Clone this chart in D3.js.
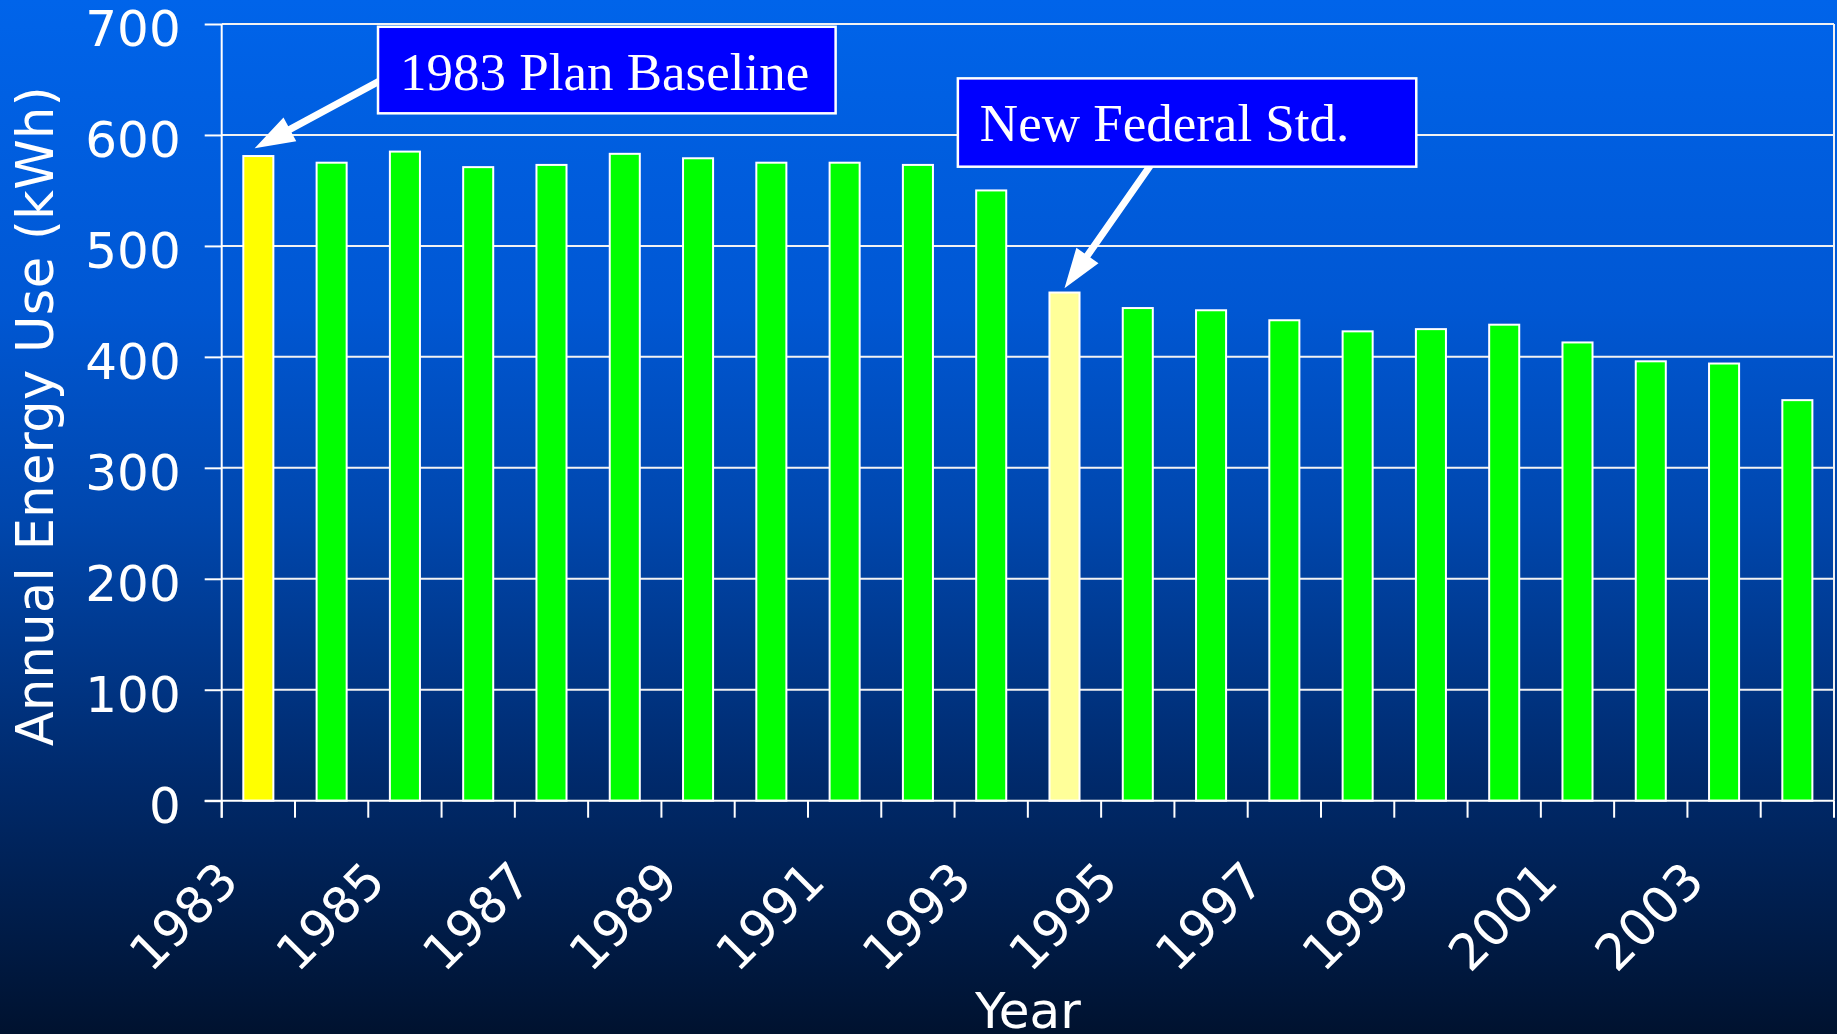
<!DOCTYPE html>
<html>
<head>
<meta charset="utf-8">
<script src="https://cdn.jsdelivr.net/npm/d3@7"></script>
<style>
  html, body { margin: 0; padding: 0; background: #001433; overflow: hidden; }
  svg { display: block; }
</style>
</head>
<body>
<svg id="chart"></svg>
<script>
//------------------------------------------------------------
// Data
const years = [1983, 1984, 1985, 1986, 1987, 1988, 1989, 1990, 1991, 1992, 1993,
               1994, 1995, 1996, 1997, 1998, 1999, 2000, 2001, 2002, 2003, 2004];
const energyUse = [581, 575, 585, 571, 573, 583, 579, 575, 575, 573, 550,
                   458, 444, 442, 433, 423, 425, 429, 413, 396, 394, 361];
const yTicks = [0, 100, 200, 300, 400, 500, 600, 700];
const xTickLabels = ["1983", "1985", "1987", "1989", "1991", "1993",
                     "1995", "1997", "1999", "2001", "2003"];
const planYear = 1983;
const stdYear = 1994;

// callouts, placed in data units (year position, kWh)
const callouts = [
  { text: "1983 Plan Baseline", x0: 1984.633, x1: 1990.877, v0: 697.5, v1: 619.5,
    from: [1984.72, 651], to: [1982.95, 588] },
  { text: "New Federal Std.", x0: 1992.545, x1: 1998.8, v0: 651.0, v1: 571.4,
    from: [1995.21, 576], to: [1994.0, 461.8] }
];

//------------------------------------------------------------
// Setup
const W = 1837, H = 1034;
const margin = { top: 24, right: 3, bottom: 233.3, left: 221.7 };

const svg = d3.select("#chart").attr("width", W).attr("height", H);

const defs = svg.append("defs");
const grad = defs.append("linearGradient")
  .attr("id", "bg").attr("x1", 0).attr("y1", 0).attr("x2", 0).attr("y2", 1);
[[0, "#0064ea"], [0.3, "#0057d3"], [0.5, "#0047ae"], [0.75, "#002a6c"], [1, "#00122f"]]
  .forEach(([o, c]) => grad.append("stop").attr("offset", o).attr("stop-color", c));

svg.append("rect").attr("width", W).attr("height", H).attr("fill", "url(#bg)");

const x = d3.scaleBand()
  .domain(years)
  .range([margin.left, W - margin.right])
  .paddingInner(0.59)
  .paddingOuter(0.295);

const y = d3.scaleLinear()
  .domain([0, 700])
  .range([H - margin.bottom, margin.top]);

// continuous year position -> band centre (for callouts)
const xp = d3.scaleLinear()
  .domain([years[0], years[years.length - 1]])
  .range([x(years[0]) + x.bandwidth() / 2, x(years[years.length - 1]) + x.bandwidth() / 2]);

const axisFont = "'DejaVu Sans', Verdana, sans-serif";
const x0 = margin.left, x1 = W - margin.right;

//------------------------------------------------------------
// Gridlines
svg.append("g")
  .selectAll("line")
  .data(yTicks.filter(d => d > 0))
  .join("line")
  .attr("x1", x0).attr("x2", x1)
  .attr("y1", d => y(d)).attr("y2", d => y(d))
  .attr("stroke", "#f2f2f2")
  .attr("stroke-width", 2);

// right frame edge
svg.append("line")
  .attr("x1", x1).attr("x2", x1)
  .attr("y1", y(700)).attr("y2", y(0))
  .attr("stroke", "#f2f2f2").attr("stroke-width", 2);

//------------------------------------------------------------
// Bars
function barFill(yr) {
  if (yr === planYear) return "#ffff00";
  if (yr === stdYear) return "#ffff99";
  return "#00ff00";
}

svg.append("g")
  .selectAll("rect")
  .data(years.map((yr, i) => ({ yr, v: energyUse[i] })))
  .join("rect")
  .attr("x", d => x(d.yr))
  .attr("y", d => y(d.v))
  .attr("width", x.bandwidth())
  .attr("height", d => y(0) - y(d.v))
  .attr("fill", d => barFill(d.yr))
  .attr("stroke", "#ffffff")
  .attr("stroke-width", 2);

//------------------------------------------------------------
// Y axis
const yAxis = svg.append("g")
  .attr("transform", `translate(${x0},0)`)
  .call(d3.axisLeft(y).tickValues(yTicks).tickSizeInner(17).tickSizeOuter(0).tickPadding(24));

yAxis.select(".domain").attr("stroke", "#fff").attr("stroke-width", 2)
  .attr("d", `M0,${y(700)}V${y(0) + 17}`);
yAxis.selectAll(".tick line").attr("stroke", "#fff").attr("stroke-width", 2);
yAxis.selectAll(".tick text")
  .attr("fill", "#fff")
  .attr("dy", "0.43em")
  .style("font-family", axisFont)
  .style("font-size", "50px");

// X axis line + ticks at category boundaries
const gap = (x.step() - x.bandwidth()) / 2;
const boundaries = years.map(yr => x(yr) - gap).concat([x1]);

svg.append("line")
  .attr("x1", x0 - 17).attr("x2", x1)
  .attr("y1", y(0)).attr("y2", y(0))
  .attr("stroke", "#fff").attr("stroke-width", 2);

svg.append("g")
  .selectAll("line")
  .data(boundaries)
  .join("line")
  .attr("x1", d => d).attr("x2", d => d)
  .attr("y1", y(0)).attr("y2", y(0) + 17)
  .attr("stroke", "#fff").attr("stroke-width", 2);

svg.append("g")
  .selectAll("text")
  .data(xTickLabels)
  .join("text")
  .attr("transform", d => `translate(${x(+d) + x.bandwidth() / 2 - 17.5},${y(0) + 83}) rotate(-45)`)
  .attr("text-anchor", "end")
  .attr("fill", "#fff")
  .style("font-family", axisFont)
  .style("font-size", "50px")
  .text(d => d);

// Axis titles
svg.append("text")
  .attr("x", (x0 + x1) / 2)
  .attr("y", 1028)
  .attr("text-anchor", "middle")
  .attr("fill", "#fff")
  .style("font-family", axisFont)
  .style("font-size", "50px")
  .text("Year");

svg.append("text")
  .attr("transform", `translate(53.3,${(y(0) + y(700)) / 2 + 4}) rotate(-90)`)
  .attr("text-anchor", "middle")
  .attr("textLength", 660)
  .attr("lengthAdjust", "spacing")
  .attr("fill", "#fff")
  .style("font-family", axisFont)
  .style("font-size", "51px")
  .text("Annual Energy Use (kWh)");

//------------------------------------------------------------
// Callouts
function arrowPath(sx, sy, tx, ty) {
  const dx = tx - sx, dy = ty - sy;
  const len = Math.hypot(dx, dy);
  const ux = dx / len, uy = dy / len;
  const nx = -uy, ny = ux;
  const shaft = 3.5, headW = 13.5, headL = 40;
  const bx = tx - ux * headL, by = ty - uy * headL;
  const pts = [
    [sx + nx * shaft, sy + ny * shaft],
    [bx + nx * shaft, by + ny * shaft],
    [bx + nx * headW, by + ny * headW],
    [tx, ty],
    [bx - nx * headW, by - ny * headW],
    [bx - nx * shaft, by - ny * shaft],
    [sx - nx * shaft, sy - ny * shaft]
  ];
  return "M" + pts.map(p => p.join(",")).join("L") + "Z";
}

const cg = svg.append("g");

cg.selectAll("path")
  .data(callouts)
  .join("path")
  .attr("d", d => arrowPath(xp(d.from[0]), y(d.from[1]), xp(d.to[0]), y(d.to[1])))
  .attr("fill", "#fff");

const boxes = cg.selectAll("g.box")
  .data(callouts)
  .join("g")
  .attr("class", "box");

boxes.append("rect")
  .attr("x", d => xp(d.x0))
  .attr("y", d => y(d.v0))
  .attr("width", d => xp(d.x1) - xp(d.x0))
  .attr("height", d => y(d.v1) - y(d.v0))
  .attr("fill", "#0000ff")
  .attr("stroke", "#fff")
  .attr("stroke-width", 2.5);

boxes.append("text")
  .attr("x", d => xp(d.x0) + 22)
  .attr("y", d => y(d.v0) + 63)
  .attr("fill", "#fff")
  .style("font-family", "'Liberation Serif', 'Times New Roman', serif")
  .style("font-size", "53px")
  .text(d => d.text);
</script>
</body>
</html>
